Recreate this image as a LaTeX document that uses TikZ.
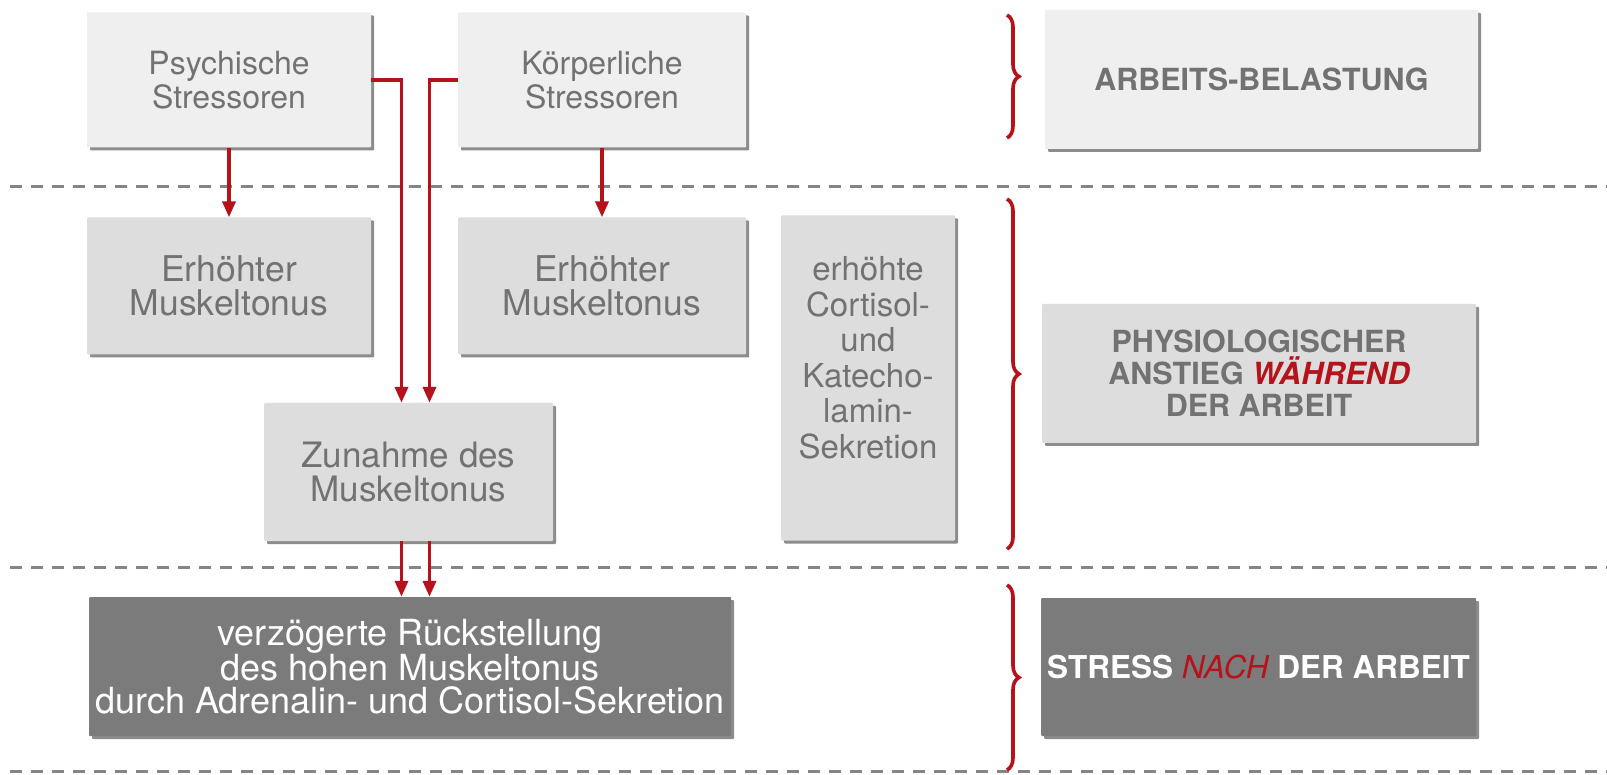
\documentclass[tikz,border=0pt]{standalone}
\usepackage{fontspec}
\setmainfont{TeX Gyre Heros}
\usetikzlibrary{arrows.meta,positioning,calc,shadows,decorations.pathreplacing}

\definecolor{boxlight}{HTML}{EFEFEF}
\definecolor{boxmid}{HTML}{DDDDDD}
\definecolor{boxdark}{HTML}{7B7B7B}
\definecolor{txtgray}{HTML}{727272}
\definecolor{linkred}{HTML}{B5121B}
\definecolor{sepgray}{HTML}{858585}

\tikzset{
  plainbox/.style={rectangle, inner sep=0pt, align=center, text=txtgray,
    rounded corners=1pt,
    font=\fontsize{33}{34}\selectfont,
    drop shadow={shadow xshift=3pt, shadow yshift=-3pt, fill=black!45, opacity=1}},
  lightbox/.style={plainbox, fill=boxlight},
  midbox/.style={plainbox, fill=boxmid},
  darkbox/.style={plainbox, fill=boxdark, text=white},
  levelbox/.style={font=\fontsize{30.5}{32}\selectfont\bfseries},
  redarrow/.style={draw=linkred, line width=3.6pt, -{Triangle[length=16pt,width=13pt]}},
  sepline/.style={draw=sepgray, line width=3pt, dash pattern=on 12pt off 9pt},
  bracered/.style={draw=linkred, line width=3.6pt,
    decorate, decoration={brace, amplitude=12pt}}
}

\begin{document}
\begin{tikzpicture}[x=1pt,y=-1pt]
\useasboundingbox[fill=white] (0,0) rectangle (1607,775);

% separators
\draw[sepline] (10,187) -- (1607,187);
\draw[sepline] (10,567) -- (1607,567);
\draw[sepline] (10,771) -- (1607,771);

% left column
\node[lightbox, minimum width=284pt, minimum height=135pt,
      font=\fontsize{32}{34}\selectfont] (psych) at (229,80) {Psychische\\Stressoren};
\node[lightbox, minimum width=288pt, minimum height=135pt,
      font=\fontsize{32}{34}\selectfont] (koerp) at (602,80) {Körperliche\\Stressoren};
\node[midbox, minimum width=284pt, minimum height=137pt,
      font=\fontsize{35.5}{34}\selectfont] (erh1) at (229,286) {Erhöhter\\Muskeltonus};
\node[midbox, minimum width=288pt, minimum height=137pt,
      font=\fontsize{35.5}{34}\selectfont] (erh2) at (602,286) {Erhöhter\\Muskeltonus};
\node[midbox, minimum width=174pt, minimum height=325pt, text depth=41pt,
      font=\fontsize{33}{35.5}\selectfont] (cortisol) at (868,378)
      {erhöhte\\Cortisol-\\und\\Katecho-\\lamin-\\Sekretion};
\node[midbox, minimum width=289pt, minimum height=138pt,
      font=\fontsize{35}{34}\selectfont] (zunahme) at (408.5,472) {Zunahme des\\Muskeltonus};
\node[darkbox, minimum width=642pt, minimum height=139pt,
      font=\fontsize{36}{33.5}\selectfont] (verz) at (410,666.5)
      {verzögerte Rückstellung\\des hohen Muskeltonus\\durch Adrenalin- und Cortisol-Sekretion};

% right column
\node[lightbox, levelbox, minimum width=433pt, minimum height=139pt] (belast) at (1261.5,79.5) {ARBEITS-BELASTUNG};
\node[midbox, levelbox, minimum width=434pt, minimum height=139pt] (anstieg) at (1259,373.5)
      {PHYSIOLOGISCHER\\ANSTIEG {\color{linkred}\itshape WÄHREND}\\DER ARBEIT};
\node[darkbox, levelbox, minimum width=435pt, minimum height=138pt,
      font=\fontsize{31.5}{32}\selectfont\bfseries] (nach) at (1258.5,667)
      {STRESS {\color{linkred}\mdseries\itshape NACH} DER ARBEIT};

% arrows
\draw[redarrow] (psych) -- (erh1);
\draw[redarrow] (koerp) -- (erh2);
\draw[redarrow] (psych.east) -| ([xshift=-7pt]zunahme.north);
\draw[redarrow] (koerp.west) -| ([xshift=21pt]zunahme.north);
\draw[redarrow] ([xshift=-7pt]zunahme.south) -- ([xshift=-7pt]zunahme.south |- verz.north);
\draw[redarrow] ([xshift=21pt]zunahme.south) -- ([xshift=21pt]zunahme.south |- verz.north);

% braces
\draw[bracered] (1007,15) -- (1007,138);
\draw[bracered] (1007,199) -- (1007,549);
\draw[bracered] (1007,585) -- (1007,770);
\end{tikzpicture}
\end{document}
